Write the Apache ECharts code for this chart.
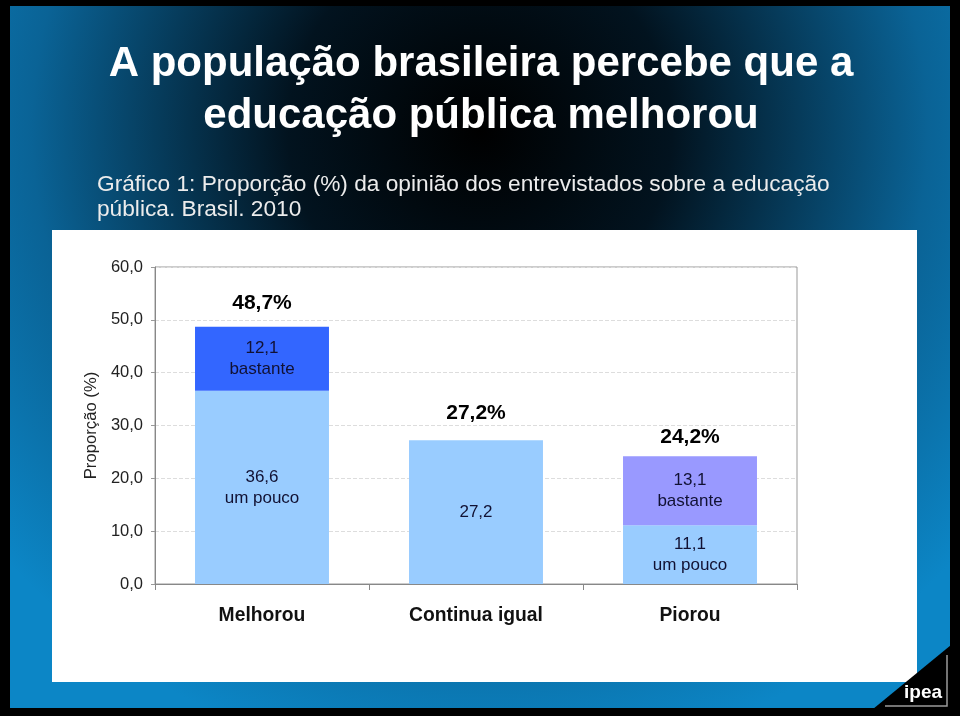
<!DOCTYPE html>
<html>
<head>
<meta charset="utf-8">
<script src="https://cdn.jsdelivr.net/npm/echarts@6/dist/echarts.min.js"></script>
<style>
html,body{margin:0;padding:0;background:#000;}
#chart{width:960px;height:716px;}
</style>
</head>
<body>
<div id="chart"></div>
<script>
// ---- data ----
var categories = ['Melhorou', 'Continua igual', 'Piorou'];
var umPouco = [36.6, 27.2, 11.1];
var bastante = [12.1, null, 13.1];
var umPoucoNames = ['um pouco', '', 'um pouco'];
var bastanteNames = ['bastante', '', 'bastante'];
var yTicks = [0, 10, 20, 30, 40, 50, 60];
var titleLines = ['A população brasileira percebe que a', 'educação pública melhorou'];
var subtitleLines = ['Gráfico 1: Proporção (%) da opinião dos entrevistados sobre a educação', 'pública. Brasil. 2010'];

// ---- styles ----
var bastanteColors = ['#3366FF', '#3366FF', '#9999FF'];
var totalLabelGaps = [12, 16, 8];

var totals = umPouco.map(function (v, i) { return +(v + (bastante[i] || 0)).toFixed(1); });
function comma(v) { return Number(v).toFixed(1).replace('.', ','); }

var FONT = 'Liberation Sans, Arial, Helvetica, sans-serif';

var chart = echarts.init(document.getElementById('chart'), null, { renderer: 'canvas' });

var graphics = [
  { type: 'rect', z: -10, shape: { x: 10, y: 6, width: 940, height: 702 },
    style: { fill: { type: 'radial', x: 480, y: 130, r: 640, global: true,
      colorStops: [
        { offset: 0, color: '#000000' },
        { offset: 0.3, color: '#02131f' },
        { offset: 0.7, color: '#0a6396' },
        { offset: 1, color: '#0c86c6' }
      ] } } },
  { type: 'rect', z: -9, shape: { x: 52, y: 230, width: 865, height: 452 }, style: { fill: '#ffffff' } },
  { type: 'polygon', z: 10, shape: { points: [[873, 709], [951, 645], [951, 709]] }, style: { fill: '#000000' } },
  { type: 'polyline', z: 11, shape: { points: [[947, 655], [947, 706], [885, 706]] }, style: { stroke: '#9a9a9a', lineWidth: 1.5, fill: null } },
  { type: 'text', z: 12, x: 923, y: 693, style: { text: 'ipea', fill: '#ffffff', font: 'bold 19px ' + FONT, textAlign: 'center', textVerticalAlign: 'middle' } }
];
titleLines.forEach(function (t, i) {
  graphics.push({ type: 'text', z: 12, x: 481, y: 64 + i * 52,
    style: { text: t, fill: '#ffffff', font: 'bold 42px ' + FONT, textAlign: 'center', textVerticalAlign: 'middle' } });
});
subtitleLines.forEach(function (t, i) {
  graphics.push({ type: 'text', z: 12, x: 97, y: 185 + i * 25,
    style: { text: t, fill: '#ececec', font: '22.7px ' + FONT, textAlign: 'left', textVerticalAlign: 'middle' } });
});

var option = {
  animation: false,
  backgroundColor: '#000',
  textStyle: { fontFamily: FONT },
  graphic: graphics,
  grid: { left: 155, right: 163, top: 267, bottom: 132, show: true, borderColor: '#999', borderWidth: 1, backgroundColor: '#fff' },
  xAxis: {
    type: 'category', data: categories,
    axisLine: { lineStyle: { color: '#888', width: 1 } },
    axisTick: { show: true, length: 6, lineStyle: { color: '#888' } },
    axisLabel: { fontSize: 19.3, fontWeight: 'bold', color: '#111', margin: 22, fontFamily: FONT },
    splitLine: { show: false }
  },
  yAxis: {
    type: 'value', min: yTicks[0], max: yTicks[yTicks.length - 1], interval: yTicks[1] - yTicks[0],
    name: 'Proporção (%)', nameLocation: 'middle', nameRotate: 90, nameGap: 54,
    nameTextStyle: { fontSize: 16.7, color: '#222', fontFamily: FONT },
    axisLine: { show: true, lineStyle: { color: '#888' } },
    axisTick: { show: true, length: 4, lineStyle: { color: '#999' } },
    axisLabel: { fontSize: 16.5, color: '#222', margin: 12, fontFamily: FONT, formatter: function (v) { return comma(v); } },
    splitLine: { show: true, lineStyle: { color: '#dddddd', type: 'dashed' } }
  },
  series: [
    { name: 'um pouco', type: 'bar', stack: 'a', barWidth: '62.6%', data: umPouco,
      itemStyle: { color: '#99CCFF' },
      label: { show: true, position: 'inside', fontSize: 17, lineHeight: 21, color: '#111133', fontFamily: FONT,
        formatter: function (p) { var s = umPoucoNames[p.dataIndex]; return comma(p.value) + (s ? '\n' + s : ''); } } },
    { name: 'bastante', type: 'bar', stack: 'a', barWidth: '62.6%', data: bastante,
      itemStyle: { color: function (p) { return bastanteColors[p.dataIndex]; } },
      label: { show: true, position: 'inside', fontSize: 17, lineHeight: 21, color: '#111133', fontFamily: FONT,
        formatter: function (p) { var s = bastanteNames[p.dataIndex]; return comma(p.value) + (s ? '\n' + s : ''); } } },
    { name: 'total', type: 'scatter', symbolSize: 1, itemStyle: { color: 'rgba(0,0,0,0)', opacity: 1 }, silent: true,
      data: totals.map(function (v, i) { return { value: v, label: { distance: totalLabelGaps[i] } }; }),
      label: { show: true, position: 'top', fontSize: 21, fontWeight: 'bold', color: '#000', opacity: 1, fontFamily: FONT,
        formatter: function (p) { return comma(p.value) + '%'; } } }
  ]
};
chart.setOption(option);
</script>
</body>
</html>
